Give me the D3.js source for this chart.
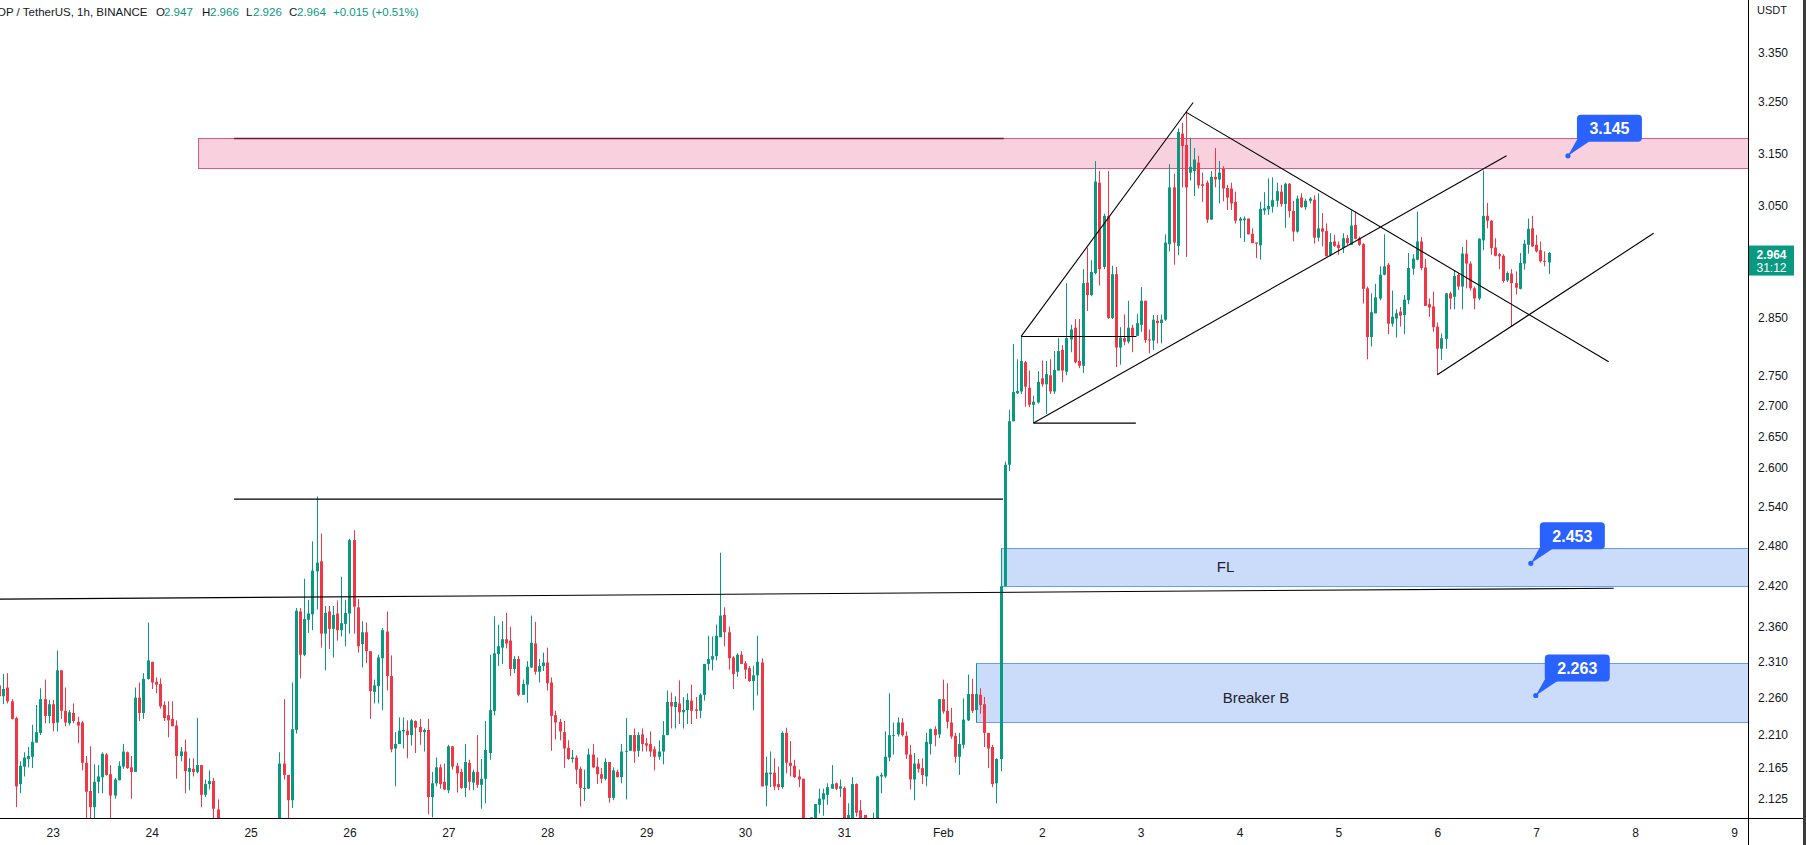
<!DOCTYPE html>
<html>
<head>
<meta charset="utf-8">
<script src="https://cdn.jsdelivr.net/npm/d3@7/dist/d3.min.js"></script>
<style>
html,body{margin:0;padding:0;background:#ffffff;overflow:hidden;}
svg{display:block;font-family:"Liberation Sans",Arial,sans-serif;}
</style>
</head>
<body>
<svg id="chart" width="1806" height="845"></svg>
<script>
// ---------------- DATA ----------------
// hourly candles, first candle = 2024-01-22 11:00 UTC (hour -13 relative to Jan 23 00:00)
const firstHour = -13;
const opens = [
2.277,2.262,2.274,2.255,2.232,2.144,2.167,2.177,2.180,2.199,2.212,2.258,2.235,
2.251,2.226,2.298,2.242,2.225,2.239,2.227,2.226,2.172,2.135,2.114,2.147,2.153,2.183,2.157,2.129,2.149,2.167,2.186,2.166,2.160,2.260,2.239,2.286,
2.310,2.282,2.279,2.250,2.236,2.231,2.222,2.181,2.187,2.160,2.164,2.160,2.169,2.130,2.144,2.148,2.111,2.085,2.070,2.062,2.070,2.080,2.066,2.048,
2.055,2.050,2.058,2.072,2.066,2.076,2.084,2.090,2.171,2.156,2.123,2.216,2.382,2.320,2.370,2.378,2.441,2.456,2.350,2.382,2.357,2.379,2.355,2.364,
2.379,2.488,2.388,2.335,2.352,2.325,2.268,2.276,2.315,2.353,2.290,2.191,2.197,2.214,2.215,2.209,2.228,2.220,2.213,2.216,2.127,2.145,2.166,2.147,
2.136,2.194,2.168,2.160,2.139,2.172,2.146,2.160,2.143,2.151,2.185,2.242,2.321,2.330,2.342,2.340,2.300,2.314,2.264,2.278,2.302,2.336,2.296,2.304,
2.309,2.281,2.236,2.227,2.213,2.192,2.177,2.179,2.164,2.138,2.138,2.183,2.167,2.157,2.151,2.173,2.126,2.160,2.153,2.187,2.188,2.209,2.188,2.210,
2.198,2.197,2.190,2.180,2.187,2.209,2.254,2.247,2.252,2.240,2.243,2.256,2.244,2.242,2.264,2.307,2.313,2.318,2.345,2.377,2.352,2.316,2.296,2.320,
2.308,2.301,2.283,2.291,2.309,2.142,2.157,2.159,2.144,2.140,2.212,2.172,2.168,2.154,2.151,2.085,2.075,2.100,2.117,2.124,2.130,2.138,2.145,2.138,
2.139,2.090,2.098,2.144,2.110,2.104,2.088,2.080,2.094,2.154,2.154,2.179,2.208,2.210,2.226,2.208,2.183,2.150,2.171,2.165,2.154,2.197,2.217,2.210,
2.258,2.242,2.226,2.208,2.180,2.196,2.229,2.265,2.243,2.264,2.251,2.212,2.193,2.145,2.177,2.419,2.605,2.675,2.721,2.724,2.773,2.730,2.702,2.706,
2.746,2.736,2.751,2.724,2.759,2.794,2.757,2.812,2.832,2.775,2.767,2.911,2.889,2.928,3.094,2.939,3.032,2.849,2.926,2.798,2.814,2.808,2.832,2.818,
2.837,2.879,2.812,2.810,2.844,2.840,2.846,2.980,3.085,2.977,3.188,3.166,3.113,3.116,3.132,3.091,3.094,3.025,3.105,3.100,3.120,3.084,3.083,3.058,
3.023,3.024,3.027,2.999,2.983,2.978,3.042,3.044,3.049,3.060,3.077,3.054,3.092,3.041,3.003,3.066,3.048,3.060,3.062,2.992,3.009,3.004,2.960,2.985,
2.979,2.973,2.991,2.979,3.015,2.991,2.980,2.901,2.816,2.857,2.883,2.925,2.943,2.839,2.848,2.860,2.854,2.880,2.936,2.952,2.985,2.938,2.873,2.869,
2.834,2.796,2.813,2.892,2.886,2.925,2.904,2.963,2.945,2.901,2.883,2.987,3.032,3.023,2.974,2.962,2.959,2.915,2.927,2.910,2.900,2.945,2.979,3.009,
2.979,2.969,2.950,2.947];
const highs = [
2.347,2.293,2.294,2.258,2.234,2.174,2.186,2.193,2.223,2.250,2.273,2.285,2.257,
2.257,2.326,2.298,2.274,2.243,2.252,2.234,2.228,2.181,2.194,2.170,2.169,2.186,2.185,2.169,2.152,2.174,2.197,2.187,2.181,2.274,2.281,2.294,2.366,
2.310,2.288,2.287,2.255,2.255,2.255,2.229,2.193,2.203,2.178,2.178,2.232,2.169,2.150,2.162,2.152,2.124,2.092,2.078,2.075,2.085,2.090,2.072,2.060,
2.068,2.062,2.078,2.088,2.080,2.092,2.094,2.186,2.258,2.156,2.281,2.387,2.387,2.430,2.399,2.486,2.555,2.498,2.390,2.390,2.390,2.398,2.433,2.399,
2.490,2.503,2.400,2.368,2.366,2.325,2.285,2.320,2.358,2.382,2.319,2.213,2.233,2.233,2.229,2.231,2.229,2.231,2.218,2.231,2.160,2.179,2.170,2.171,
2.196,2.194,2.172,2.164,2.197,2.176,2.163,2.209,2.177,2.228,2.320,2.375,2.363,2.368,2.380,2.360,2.318,2.318,2.285,2.311,2.376,2.367,2.314,2.323,
2.330,2.288,2.242,2.231,2.228,2.202,2.189,2.182,2.167,2.163,2.191,2.197,2.179,2.165,2.178,2.173,2.166,2.163,2.197,2.232,2.209,2.218,2.213,2.218,
2.205,2.214,2.194,2.202,2.228,2.270,2.267,2.262,2.284,2.261,2.266,2.278,2.261,2.266,2.307,2.347,2.346,2.363,2.469,2.388,2.360,2.318,2.322,2.325,
2.311,2.304,2.304,2.347,2.315,2.180,2.187,2.178,2.167,2.214,2.219,2.201,2.176,2.163,2.151,2.095,2.101,2.118,2.138,2.138,2.145,2.169,2.146,2.150,
2.141,2.119,2.153,2.145,2.123,2.104,2.096,2.107,2.155,2.159,2.214,2.266,2.226,2.233,2.232,2.214,2.196,2.185,2.177,2.178,2.212,2.218,2.221,2.258,
2.285,2.280,2.246,2.212,2.212,2.259,2.292,2.286,2.292,2.273,2.261,2.212,2.196,2.178,2.419,2.610,2.694,2.804,2.778,2.818,2.775,2.759,2.717,2.758,
2.776,2.775,2.778,2.792,2.814,2.802,2.910,2.837,2.847,2.847,2.935,2.974,2.951,3.135,3.116,3.036,3.116,2.941,2.939,2.833,2.855,2.879,2.837,2.856,
2.903,2.879,2.829,2.854,2.854,2.855,2.998,3.129,3.111,3.198,3.209,3.230,3.180,3.160,3.145,3.113,3.098,3.116,3.160,3.135,3.125,3.090,3.094,3.077,
3.030,3.031,3.027,3.009,2.983,3.058,3.076,3.102,3.104,3.094,3.090,3.094,3.093,3.060,3.070,3.074,3.064,3.067,3.070,3.074,3.037,3.018,3.000,2.997,
2.985,3.000,2.997,3.042,3.040,2.994,2.982,2.904,2.892,2.909,2.940,2.998,2.946,2.897,2.864,2.868,2.889,2.964,2.962,3.040,2.993,2.953,2.883,2.895,
2.841,2.822,2.893,2.895,2.932,2.928,2.975,2.988,2.949,2.904,2.991,3.117,3.056,3.024,2.991,2.964,2.962,2.931,2.935,2.931,2.964,2.988,3.027,3.032,
2.997,2.985,2.967,2.966];
const lows = [
2.255,2.251,2.252,2.230,2.114,2.132,2.154,2.166,2.165,2.199,2.209,2.225,2.225,
2.214,2.214,2.231,2.221,2.222,2.225,2.198,2.162,2.095,2.090,2.095,2.132,2.132,2.155,2.096,2.125,2.149,2.164,2.164,2.125,2.160,2.228,2.231,2.285,
2.272,2.266,2.245,2.228,2.206,2.221,2.151,2.174,2.132,2.136,2.154,2.158,2.114,2.127,2.137,2.095,2.070,2.060,2.058,2.048,2.065,2.062,2.040,2.035,
2.045,2.030,2.052,2.060,2.055,2.068,2.070,2.085,2.150,2.092,2.113,2.211,2.287,2.318,2.351,2.355,2.385,2.330,2.298,2.328,2.316,2.340,2.346,2.332,
2.350,2.350,2.323,2.302,2.308,2.231,2.252,2.252,2.243,2.270,2.186,2.141,2.197,2.191,2.178,2.195,2.185,2.196,2.187,2.105,2.101,2.141,2.138,2.136,
2.132,2.163,2.133,2.138,2.127,2.136,2.136,2.139,2.112,2.119,2.176,2.236,2.304,2.307,2.329,2.290,2.294,2.262,2.264,2.253,2.301,2.292,2.281,2.297,
2.270,2.188,2.203,2.202,2.165,2.176,2.172,2.144,2.115,2.122,2.138,2.165,2.144,2.145,2.149,2.120,2.123,2.153,2.145,2.124,2.188,2.172,2.180,2.187,
2.187,2.180,2.162,2.176,2.170,2.209,2.218,2.218,2.224,2.218,2.224,2.224,2.231,2.232,2.256,2.298,2.298,2.312,2.345,2.332,2.299,2.272,2.289,2.307,
2.286,2.282,2.243,2.263,2.141,2.115,2.140,2.136,2.136,2.138,2.158,2.154,2.152,2.140,2.075,2.060,2.068,2.095,2.106,2.103,2.117,2.138,2.136,2.127,
2.082,2.085,2.092,2.102,2.082,2.080,2.070,2.075,2.090,2.132,2.152,2.174,2.183,2.207,2.207,2.177,2.137,2.123,2.159,2.144,2.141,2.183,2.194,2.205,
2.238,2.218,2.204,2.172,2.156,2.191,2.228,2.239,2.243,2.238,2.193,2.165,2.140,2.119,2.161,2.419,2.595,2.675,2.720,2.720,2.699,2.698,2.672,2.704,
2.732,2.687,2.720,2.720,2.759,2.740,2.751,2.790,2.771,2.763,2.755,2.861,2.887,2.926,2.906,2.935,2.847,2.847,2.765,2.769,2.802,2.805,2.790,2.818,
2.825,2.806,2.788,2.794,2.805,2.805,2.844,2.967,2.943,2.960,3.085,2.957,3.098,3.069,3.083,3.058,3.019,3.025,3.085,3.055,3.059,3.043,3.043,3.018,
2.991,2.984,2.998,2.982,2.955,2.952,3.034,3.034,3.038,3.049,3.049,3.010,3.029,2.985,3.001,3.047,3.043,3.055,2.981,2.985,2.976,2.958,2.958,2.975,
2.961,2.964,2.979,2.979,2.989,2.977,2.874,2.778,2.800,2.857,2.880,2.924,2.821,2.834,2.815,2.834,2.821,2.873,2.925,2.951,2.933,2.870,2.851,2.825,
2.752,2.777,2.796,2.864,2.864,2.898,2.864,2.901,2.897,2.864,2.880,2.969,3.009,2.961,2.958,2.935,2.911,2.912,2.835,2.890,2.899,2.934,2.963,2.975,
2.965,2.947,2.940,2.926];
const closes = [
2.262,2.272,2.255,2.231,2.141,2.168,2.179,2.181,2.200,2.213,2.258,2.235,2.251,
2.225,2.298,2.242,2.226,2.240,2.228,2.222,2.172,2.134,2.114,2.147,2.154,2.184,2.156,2.129,2.150,2.168,2.187,2.165,2.160,2.260,2.239,2.286,2.312,
2.281,2.278,2.248,2.232,2.229,2.221,2.181,2.187,2.161,2.165,2.160,2.169,2.130,2.144,2.148,2.112,2.085,2.070,2.062,2.070,2.080,2.066,2.048,2.055,
2.050,2.058,2.072,2.066,2.076,2.084,2.090,2.171,2.156,2.123,2.217,2.383,2.320,2.371,2.379,2.442,2.454,2.350,2.380,2.357,2.377,2.355,2.365,2.380,
2.488,2.389,2.332,2.352,2.325,2.269,2.277,2.316,2.355,2.290,2.190,2.197,2.215,2.216,2.209,2.229,2.219,2.213,2.216,2.127,2.145,2.166,2.144,2.137,
2.194,2.167,2.158,2.139,2.173,2.147,2.160,2.143,2.151,2.189,2.243,2.322,2.332,2.342,2.336,2.300,2.314,2.264,2.279,2.303,2.337,2.296,2.304,2.309,
2.280,2.235,2.226,2.214,2.191,2.177,2.179,2.163,2.139,2.139,2.183,2.166,2.157,2.151,2.173,2.126,2.162,2.153,2.187,2.188,2.209,2.187,2.209,2.197,
2.195,2.187,2.180,2.187,2.209,2.254,2.248,2.254,2.240,2.243,2.257,2.242,2.242,2.264,2.307,2.314,2.318,2.347,2.376,2.352,2.315,2.293,2.320,2.307,
2.299,2.283,2.291,2.310,2.141,2.159,2.159,2.141,2.140,2.212,2.172,2.168,2.153,2.150,2.085,2.075,2.101,2.118,2.125,2.132,2.140,2.144,2.138,2.141,
2.090,2.104,2.144,2.107,2.090,2.088,2.080,2.094,2.154,2.156,2.180,2.209,2.209,2.226,2.209,2.183,2.150,2.171,2.164,2.156,2.200,2.217,2.209,2.258,
2.241,2.227,2.207,2.180,2.197,2.230,2.265,2.242,2.265,2.250,2.212,2.191,2.144,2.177,2.419,2.605,2.675,2.723,2.725,2.775,2.732,2.702,2.707,2.740,
2.736,2.753,2.724,2.760,2.792,2.759,2.814,2.829,2.773,2.767,2.910,2.889,2.930,3.096,2.935,3.032,2.849,2.926,2.798,2.815,2.808,2.832,2.818,2.840,
2.879,2.811,2.810,2.846,2.840,2.846,2.983,3.085,2.983,3.191,3.164,3.085,3.124,3.138,3.089,3.088,3.025,3.105,3.100,3.113,3.083,3.066,3.055,3.023,
3.027,3.027,2.998,2.982,2.981,3.045,3.046,3.050,3.061,3.078,3.054,3.092,3.041,3.003,3.064,3.048,3.060,3.064,2.992,3.009,3.003,2.958,2.984,2.977,
2.973,2.991,2.982,3.014,2.990,2.979,2.900,2.816,2.859,2.885,2.925,2.940,2.839,2.851,2.857,2.853,2.881,2.937,2.954,2.985,2.937,2.870,2.867,2.833,
2.796,2.814,2.892,2.883,2.923,2.904,2.963,2.945,2.901,2.883,2.990,3.032,3.023,2.973,2.959,2.958,2.914,2.928,2.910,2.902,2.946,2.981,3.008,2.976,
2.967,2.949,2.949,2.964];

const yTickValues = [3.350,3.250,3.150,3.050,2.850,2.750,2.700,2.650,2.600,2.540,2.480,2.420,2.360,2.310,2.260,2.210,2.165,2.125];
const xTickDays = ["2024-01-23","2024-01-24","2024-01-25","2024-01-26","2024-01-27","2024-01-28","2024-01-29","2024-01-30","2024-01-31",
                   "2024-02-01","2024-02-02","2024-02-03","2024-02-04","2024-02-05","2024-02-06","2024-02-07","2024-02-08","2024-02-09"];

// drawings: [hour (from Jan 23 00:00), price]
const trendLines = [
  [[-12.81, 2.400], [378.8, 2.416]],
  [[44, 2.551], [230.6, 2.551]],
  [[235, 2.817], [276.75, 3.249]],
  [[235, 2.817], [263, 2.817]],
  [[238, 2.672], [262.85, 2.672]],
  [[238, 2.672], [352.8, 3.145]],
  [[275, 3.230], [377.6, 2.774]],
  [[336, 2.752], [388.5, 3.000]]
];
const resistanceLine = [[44, 3.179], [230.8, 3.179]];
const pinkZone = {from: 35.2, top: 3.179, bottom: 3.121};
const flZone = {from: 230, top: 2.476, bottom: 2.419};
const breakerZone = {from: 224.1, top: 2.308, bottom: 2.227};
const zoneLabels = [{text: "FL", hour: 284.6, price: 2.448}, {text: "Breaker B", hour: 292.0, price: 2.260}];
const callouts = [{hour: 367.7, price: 3.145}, {hour: 358.7, price: 2.453}, {hour: 359.9, price: 2.263}];
const symbolText = "OP / TetherUS, 1h, BINANCE";
const countdown = "31:12";

// ---------------- CHART ----------------
const W = 1806, H = 845, PW = 1748, PH = 818;
const UP = "#089981", DOWN = "#f23645", TXT = "#131722";
const T0 = Date.UTC(2024, 0, 23), HOUR = 3600000;
const at = h => new Date(T0 + h * HOUR);

const x = d3.scaleUtc().domain([at(-12.81), at(411.4)]).range([0, PW]);
const y = d3.scaleLog().domain([2.1001, 3.4586]).range([PH, 0]);

const svg = d3.select("#chart");
svg.append("rect").attr("width", W).attr("height", H).attr("fill", "#ffffff");
svg.append("defs").append("clipPath").attr("id", "plotClip")
  .append("rect").attr("x", 0).attr("y", 0).attr("width", PW).attr("height", PH);
const plot = svg.append("g").attr("clip-path", "url(#plotClip)");

function drawZone(z, fill, stroke, leftStroke) {
  const x0 = Math.round(x(at(z.from))) + 0.5;
  const y0 = Math.round(y(z.top)) + 0.5, y1 = Math.round(y(z.bottom)) + 0.5;
  plot.append("rect").attr("x", x0).attr("y", y0).attr("width", PW + 10 - x0).attr("height", y1 - y0)
    .attr("fill", fill).attr("stroke", stroke).attr("stroke-width", 1);
  plot.append("line").attr("x1", x0).attr("x2", x0).attr("y1", y0).attr("y2", y1)
    .attr("stroke", leftStroke).attr("stroke-width", 1);
}
drawZone(pinkZone, "#f8d0de", "#e0578a", "#e0578a");
drawZone(flZone, "#cadcfa", "#6a9cf2", UP);
drawZone(breakerZone, "#cadcfa", "#6a9cf2", UP);

// candles
const n = Math.min(opens.length, highs.length, lows.length, closes.length);
const candles = d3.range(n).map(i => ({h: firstHour + i, o: opens[i], hi: highs[i], lo: lows[i], c: closes[i]}));
const cg = plot.append("g");
cg.selectAll("line").data(candles).join("line")
  .attr("x1", d => Math.round(x(at(d.h))) + 0.5).attr("x2", d => Math.round(x(at(d.h))) + 0.5)
  .attr("y1", d => y(d.hi)).attr("y2", d => y(d.lo))
  .attr("stroke", d => d.c >= d.o ? UP : DOWN).attr("stroke-width", 1);
cg.selectAll("rect").data(candles).join("rect")
  .attr("x", d => Math.round(x(at(d.h))) - 1).attr("width", 3)
  .attr("y", d => y(Math.max(d.o, d.c)))
  .attr("height", d => Math.max(1, Math.abs(y(d.o) - y(d.c))))
  .attr("fill", d => d.c >= d.o ? UP : DOWN);

// lines
const lineG = plot.append("g");
lineG.selectAll("line.tl").data(trendLines).join("line").attr("class", "tl")
  .attr("x1", d => x(at(d[0][0]))).attr("y1", d => y(d[0][1]))
  .attr("x2", d => x(at(d[1][0]))).attr("y2", d => y(d[1][1]))
  .attr("stroke", "#000").attr("stroke-width", 1.1);
lineG.append("line")
  .attr("x1", x(at(resistanceLine[0][0]))).attr("x2", x(at(resistanceLine[1][0])))
  .attr("y1", Math.round(y(resistanceLine[0][1])) + 0.5).attr("y2", Math.round(y(resistanceLine[1][1])) + 0.5)
  .attr("stroke", "#7a1535").attr("stroke-width", 1.3);

// zone labels
plot.selectAll("text.zl").data(zoneLabels).join("text").attr("class", "zl")
  .attr("x", d => x(at(d.hour))).attr("y", d => y(d.price)).attr("dy", "0.36em")
  .attr("text-anchor", "middle").attr("font-size", 15).attr("fill", "#1e222d").text(d => d.text);

// callouts
const cal = plot.selectAll("g.cal").data(callouts).join("g").attr("class", "cal");
cal.each(function(d) {
  const g = d3.select(this);
  const px = x(at(d.hour)), py = y(d.price);
  const bx = px + 9, by = py - 14, bw = 65, bh = 27;
  g.append("polygon").attr("points", `${px},${py} ${bx},${by - 2} ${bx + 15},${by - 2}`).attr("fill", "#2962ff");
  g.append("circle").attr("cx", px).attr("cy", py).attr("r", 2.6).attr("fill", "#2962ff");
  g.append("rect").attr("x", bx).attr("y", by - bh).attr("width", bw).attr("height", bh).attr("rx", 4).attr("fill", "#2962ff");
  g.append("text").attr("x", bx + bw / 2).attr("y", by - bh / 2).attr("dy", "0.36em").attr("text-anchor", "middle")
    .attr("fill", "#fff").attr("font-weight", "bold").attr("font-size", 16).text(d3.format(".3f")(d.price));
});

// axes frame
svg.append("line").attr("x1", 0).attr("x2", W).attr("y1", PH + 0.5).attr("y2", PH + 0.5).attr("stroke", "#000");
svg.append("line").attr("x1", PW + 0.5).attr("x2", PW + 0.5).attr("y1", 0).attr("y2", H).attr("stroke", "#000");
svg.append("rect").attr("x", W - 3).attr("y", 0).attr("width", 3).attr("height", H).attr("fill", "#3b3b3b");

// y axis
const yAxis = d3.axisRight(y).tickValues(yTickValues).tickFormat(d3.format(".3f")).tickSize(0);
const gy = svg.append("g").attr("transform", `translate(${PW},0)`).call(yAxis);
gy.select(".domain").remove();
gy.selectAll("text").attr("x", 25).attr("text-anchor", "middle").attr("font-size", 12)
  .attr("font-family", "Liberation Sans, Arial, sans-serif").attr("fill", TXT);
svg.append("text").attr("x", 1772).attr("y", 14).attr("text-anchor", "middle").attr("font-size", 11).attr("fill", TXT).text("USDT");

// x axis
const xAxis = d3.axisBottom(x).tickValues(xTickDays.map(s => new Date(s + "T00:00:00Z"))).tickSize(0)
  .tickFormat(d => d.getUTCDate() === 1 ? d3.utcFormat("%b")(d) : String(d.getUTCDate()));
const gx = svg.append("g").attr("transform", `translate(0,${PH})`).call(xAxis);
gx.select(".domain").remove();
gx.selectAll("text").attr("y", 10).attr("font-size", 12).attr("font-family", "Liberation Sans, Arial, sans-serif").attr("fill", TXT);

// last price label
const last = candles[n - 1], prev = candles[n - 2];
const ly = y(last.c);
svg.append("rect").attr("x", PW + 1).attr("y", ly - 7.5).attr("width", 45).attr("height", 30).attr("fill", UP);
svg.append("text").attr("x", PW + 23.5).attr("y", ly + 5.5).attr("text-anchor", "middle").attr("font-size", 12)
  .attr("font-weight", "bold").attr("fill", "#fff").text(d3.format(".3f")(last.c));
svg.append("text").attr("x", PW + 23.5).attr("y", ly + 18.5).attr("text-anchor", "middle").attr("font-size", 12)
  .attr("fill", "#fff").text(countdown);

// header
const f3 = d3.format(".3f");
const chg = last.c - prev.c;
const header = [
  {t: symbolText, x: -3, c: TXT},
  {t: "O", x: 156, c: TXT}, {t: f3(last.o), x: 164, c: UP},
  {t: "H", x: 202, c: TXT}, {t: f3(last.hi), x: 210, c: UP},
  {t: "L", x: 246, c: TXT}, {t: f3(last.lo), x: 253, c: UP},
  {t: "C", x: 289, c: TXT}, {t: f3(last.c), x: 297, c: UP},
  {t: (chg >= 0 ? "+" : "") + f3(chg) + " (" + (chg >= 0 ? "+" : "") + d3.format(".2f")(chg / prev.c * 100) + "%)", x: 333, c: UP}
];
svg.selectAll("text.hd").data(header).join("text").attr("class", "hd")
  .attr("x", d => d.x).attr("y", 16).attr("font-size", 11.5).attr("fill", d => d.c).text(d => d.t);
</script>
</body>
</html>
